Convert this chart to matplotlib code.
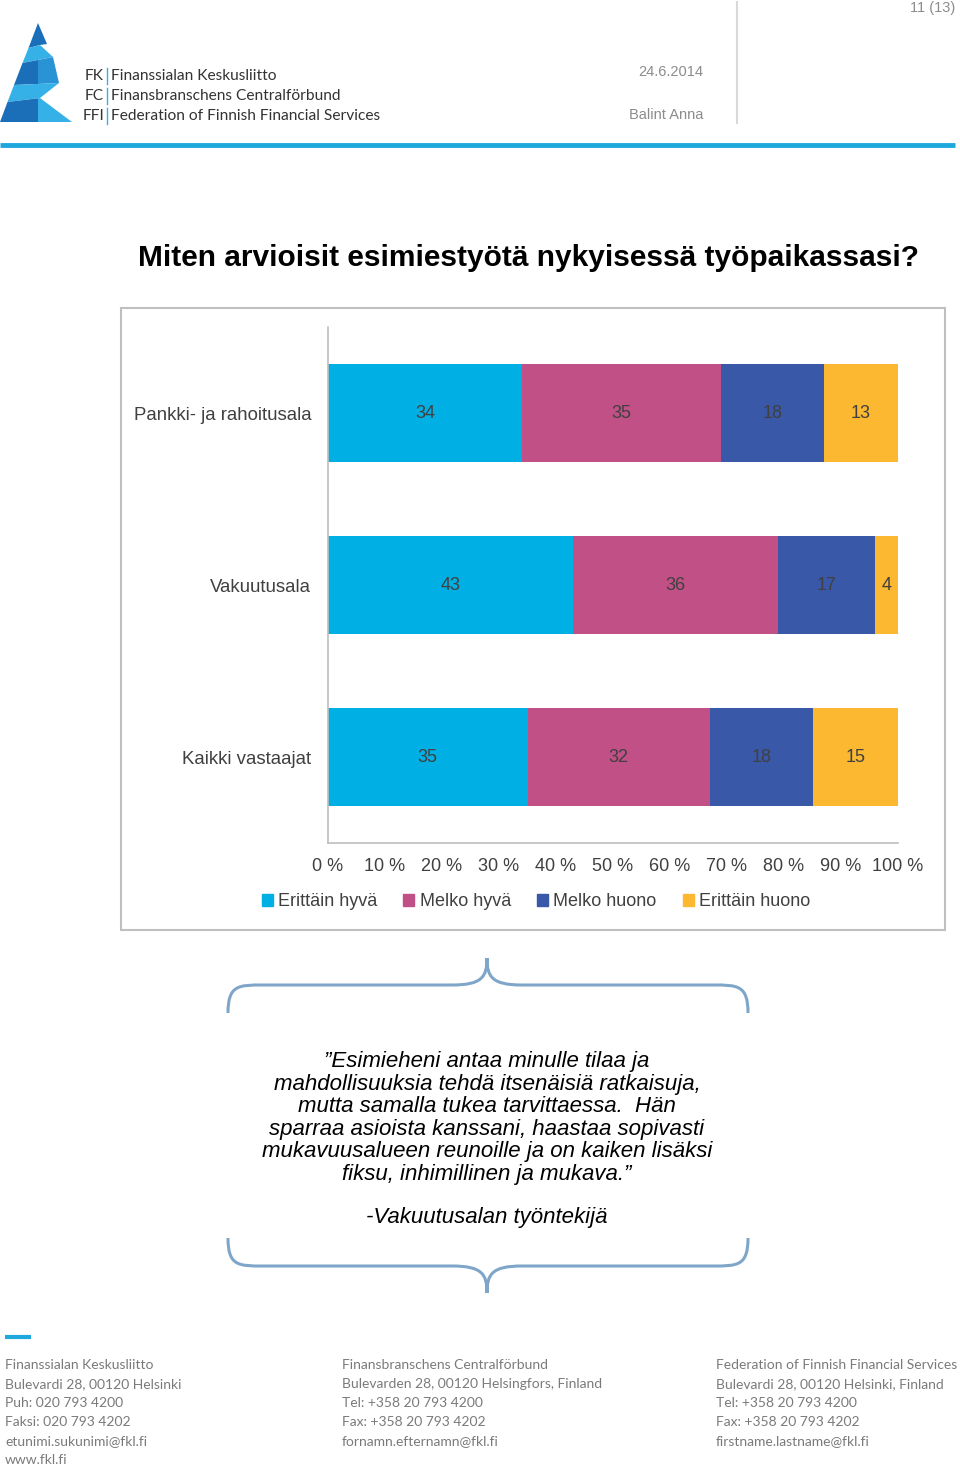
import matplotlib
matplotlib.use('Agg')
import matplotlib.pyplot as plt
from matplotlib.patches import Patch, Polygon, Rectangle
from matplotlib.path import Path
from matplotlib.patches import PathPatch

plt.rcParams['font.family'] = ['Liberation Sans', 'DejaVu Sans']

# data
ryhmat = ['Pankki- ja rahoitusala', 'Vakuutusala', 'Kaikki vastaajat']
vastaukset = ['Erittäin hyvä', 'Melko hyvä', 'Melko huono', 'Erittäin huono']
erittain_hyva = [34, 43, 35]
melko_hyva = [35, 36, 32]
melko_huono = [18, 17, 18]
erittain_huono = [13, 4, 15]
x_ticks = [0, 10, 20, 30, 40, 50, 60, 70, 80, 90, 100]
x_tick_labels = ['%d %%' % t for t in x_ticks]

varit = ['#00B0E4', '#C05085', '#3A58A8', '#FBB830']
teksti = '#404040'

lainaus = ('\u201dEsimieheni antaa minulle tilaa ja\n'
           'mahdollisuuksia tehdä itsenäisiä ratkaisuja,\n'
           'mutta samalla tukea tarvittaessa.  Hän\n'
           'sparraa asioista kanssani, haastaa sopivasti\n'
           'mukavuusalueen reunoille ja on kaiken lisäksi\n'
           'fiksu, inhimillinen ja mukava.\u201d')

alatunniste = [
    ['Finanssialan Keskusliitto', 'Bulevardi 28, 00120 Helsinki', 'Puh: 020 793 4200',
     'Faksi: 020 793 4202', 'etunimi.sukunimi@fkl.fi', 'www.fkl.fi'],
    ['Finansbranschens Centralförbund', 'Bulevarden 28, 00120 Helsingfors, Finland',
     'Tel: +358 20 793 4200', 'Fax: +358 20 793 4202', 'fornamn.efternamn@fkl.fi'],
    ['Federation of Finnish Financial Services', 'Bulevardi 28, 00120 Helsinki, Finland',
     'Tel: +358 20 793 4200', 'Fax: +358 20 793 4202', 'firstname.lastname@fkl.fi'],
]

fig = plt.figure(figsize=(9.6, 14.66), dpi=100)

# taustakerros pikselikoordinaateilla
bg = fig.add_axes([0, 0, 1, 1])
bg.set_xlim(0, 960)
bg.set_ylim(1466, 0)
bg.axis('off')

# logo
tumma = '#1B6FB8'
keski = '#2A93D6'
vaalea = '#35B1E8'
logo_osat = [
    ([(38, 23), (47, 44), (40, 45), (28.5, 48)], tumma),
    ([(28.5, 48), (40, 45), (53, 57), (22.5, 63)], vaalea),
    ([(22.5, 63), (38, 60), (38, 84), (14, 85)], tumma),
    ([(38, 60), (53, 57), (59, 83), (38, 84)], keski),
    ([(14, 85), (59, 83), (40, 98), (7.5, 102)], vaalea),
    ([(7.5, 102), (38, 98.3), (38, 122), (0, 122)], tumma),
    ([(38, 98.3), (40, 98), (72, 122), (38, 122)], vaalea),
]
for pisteet, vari in logo_osat:
    bg.add_patch(Polygon(pisteet, color=vari, lw=0))

logo_rivit = [('FK', 'Finanssialan Keskusliitto', 76),
              ('FC', 'Finansbranschens Centralförbund', 96),
              ('FFI', 'Federation of Finnish Financial Services', 116)]
for lyh, nimi, y in logo_rivit:
    bg.text(104, y, lyh, ha='right', va='center', fontsize=11.2, family='Lato', color='#333333')
    bg.plot([107, 107], [y - 8, y + 8], color=vaalea, lw=1)
    bg.text(111, y, nimi, ha='left', va='center', fontsize=11.2, family='Lato', color='#333333')

bg.text(703, 72, '24.6.2014', ha='right', va='center', fontsize=10.5, color='#8C8C8C')
bg.text(703, 115, 'Balint Anna', ha='right', va='center', fontsize=10.5, color='#8C8C8C')
bg.text(955, 8, '11 (13)', ha='right', va='center', fontsize=10.5, color='#8C8C8C')
bg.plot([737, 737], [2, 123], color='#D9D9D9', lw=1.5)
bg.plot([0, 955], [145, 145], color='#1FA8DC', lw=3.5, solid_capstyle='butt')

bg.text(528, 258, 'Miten arvioisit esimiestyötä nykyisessä työpaikassasi?',
        ha='center', va='center', fontsize=21.5, fontweight='bold', color='black')

# kaavion kehys
bg.add_patch(Rectangle((121, 308), 824, 622, fill=False, ec='#BFBFBF', lw=1.5))


def sulku(y_reuna, y_taso, y_karki, x0=228, x1=748, xm=487):
    """Kaareva aaltosulku kahdesta puolikkaasta."""
    d = 35
    verts = [(x0, y_reuna), (x0, y_taso), (x0 + d * 0.3, y_taso), (x0 + d, y_taso),
             (xm - d, y_taso), (xm - 5, y_taso), (xm, y_karki * 0.3 + y_taso * 0.7), (xm, y_karki),
             (xm, y_karki * 0.3 + y_taso * 0.7), (xm + 5, y_taso), (xm + d, y_taso),
             (x1 - d, y_taso), (x1 - d * 0.3, y_taso), (x1, y_taso), (x1, y_reuna)]
    codes = [Path.MOVETO, Path.CURVE4, Path.CURVE4, Path.CURVE4,
             Path.LINETO, Path.CURVE4, Path.CURVE4, Path.CURVE4,
             Path.CURVE4, Path.CURVE4, Path.CURVE4,
             Path.LINETO, Path.CURVE4, Path.CURVE4, Path.CURVE4]
    bg.add_patch(PathPatch(Path(verts, codes), fill=False, ec='#7FA6C9', lw=2.2))


sulku(1013, 985, 958)
sulku(1238, 1266, 1293)

bg.text(487, 1118, lainaus, ha='center', va='center', fontsize=16, style='italic',
        color='black', linespacing=1.09)
bg.text(487, 1218, '-Vakuutusalan työntekijä', ha='center', va='center', fontsize=16,
        style='italic', color='black')

# alatunniste
bg.plot([5, 31], [1337, 1337], color='#1FA8DC', lw=3, solid_capstyle='butt')
for x, rivit in zip([5, 342, 716], alatunniste):
    for i, r in enumerate(rivit):
        bg.text(x, 1365 + i * 19, r, ha='left', va='center', fontsize=10,
                family='Lato', color='#7A7A7A')

# pylväskaavio
ax = fig.add_axes([328 / 960, 1 - 843 / 1466, 570 / 960, 516 / 1466])
sarjat = [erittain_hyva, melko_hyva, melko_huono, erittain_huono]
vasen = [0, 0, 0]
for nimi, arvot, vari in zip(vastaukset, sarjat, varit):
    palkit = ax.barh(ryhmat, arvot, left=vasen, height=0.565, color=vari, label=nimi)
    ax.bar_label(palkit, labels=[str(v) for v in arvot], label_type='center',
                 fontsize=13, color=teksti)
    vasen = [a + b for a, b in zip(vasen, arvot)]

ax.set_xlim(0, 100)
ax.set_ylim(2.5, -0.5)
ax.set_xticks(x_ticks)
ax.set_xticklabels(x_tick_labels)
ax.tick_params(axis='both', length=0, labelsize=13, labelcolor=teksti)
ax.tick_params(axis='y', labelsize=13.4)
ax.tick_params(axis='x', pad=11)
ax.tick_params(axis='y', pad=12)
for s in ['top', 'right']:
    ax.spines[s].set_visible(False)
for s in ['left', 'bottom']:
    ax.spines[s].set_color('#BFBFBF')
    ax.spines[s].set_linewidth(1.2)

kahvat = [Patch(color=v, label=n) for v, n in zip(varit, vastaukset)]
fig.legend(handles=kahvat, loc='center', bbox_to_anchor=(536 / 960, 1 - 902 / 1466),
           ncol=4, frameon=False, fontsize=13, labelcolor=teksti,
           handlelength=0.6, handleheight=0.6, handletextpad=0.3, columnspacing=1.45)

fig.savefig('out.png', dpi=100)
